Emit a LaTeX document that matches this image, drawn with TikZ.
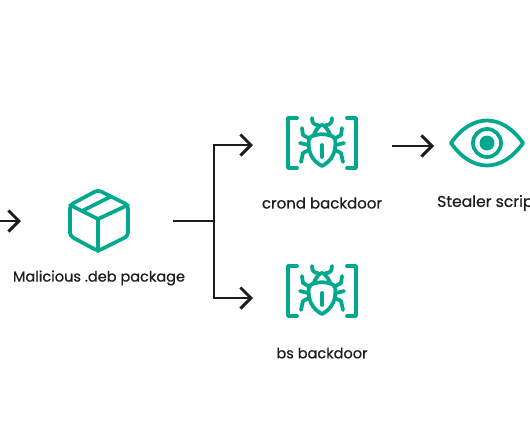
\documentclass[tikz,border=0pt]{standalone}
\usepackage{fontspec}
\usepackage{xcolor}
\usepackage{tikz}
\setmainfont{Poppins}[FakeBold=0.7]
\usetikzlibrary{arrows.meta, positioning, calc}
\definecolor{kasGreen}{RGB}{0,168,142}
\definecolor{kasInk}{RGB}{29,29,27}
\tikzset{
    flowline/.style={draw=kasInk, line width=2.5pt, line join=miter},
    flowarrow/.style={flowline, -{Straight Barb[length=9pt, width=18pt, line width=2.5pt]}},
    iconline/.style={draw=kasGreen, line width=3.2pt, line cap=round, line join=round},
    caption/.style={font=\fontsize{12.4}{14}\selectfont, text=kasInk, inner sep=0pt},
    pics/bugicon/.style={code={
        % brackets
        \draw[iconline] (-25,-25) -- (-34,-25) -- (-34,25) -- (-25,25);
        \draw[iconline] (25,-25) -- (34,-25) -- (34,25) -- (25,25);
        % body
        \draw[iconline] (-13,-5) .. controls (-7,-10) and (7,-10) .. (13,-5) .. controls (15,8) and (10,18) .. (0,23) .. controls (-10,18) and (-15,8) .. (-13,-5) -- cycle;
        \draw[iconline] (0,2) -- (0,14);
        % head and feelers
        \draw[iconline] (-8,-9) .. controls (-5,-15) and (-2,-18) .. (0,-18) .. controls (2,-18) and (5,-15) .. (8,-9);
        \draw[iconline] (-10,-25) .. controls (-10,-20) and (-8,-18) .. (-4,-18);
        \draw[iconline] (10,-25) .. controls (10,-20) and (8,-18) .. (4,-18);
        % legs
        \draw[iconline] (-12,-4) -- (-19,-8) -- (-20,-15);
        \draw[iconline] (12,-4) -- (19,-8) -- (20,-15);
        \draw[iconline] (-14,2) -- (-22,0);
        \draw[iconline] (14,2) -- (22,0);
        \draw[iconline] (-13,7) -- (-19,10) -- (-21,19);
        \draw[iconline] (13,7) -- (19,10) -- (21,19);
    }},
}
\begin{document}
\begin{tikzpicture}[x=0.03cm, y=-0.03cm]
    \useasboundingbox (0,0) rectangle (530,442);
    % free ends of the connectors
    \coordinate (inStart) at (-4,221);
    \coordinate (inEnd) at (21,221);
    \coordinate (pkgOut) at (173,221);
    \coordinate (forkMid) at (214,221);
    \coordinate (crondIn) at (253,145);
    \coordinate (bsIn) at (253,298);
    \coordinate (crondOut) at (392,146);
    \coordinate (stealerIn) at (434,146);
    % package icon
    \draw[iconline, rounded corners=3] (98,190) -- (128,205) -- (128,236) -- (98,251) -- (70,236) -- (70,205) -- cycle;
    \draw[iconline] (70,205) -- (98,219) -- (128,205);
    \draw[iconline] (98,219) -- (98,251);
    \draw[iconline] (82,211) -- (110,197);
    \node[caption] (pkgLabel) at (99,278) {Malicious .deb package};
    % bugs
    \pic at (322,143) {bugicon};
    \pic at (322,291) {bugicon};
    \node[caption, font=\fontsize{12.8}{14}\selectfont] (crondLabel) at (322,203) {crond backdoor};
    \node[caption] (bsLabel) at (322,353) {bs backdoor};
    % eye
    \draw[iconline] (451,143) .. controls (472,113) and (502,113) .. (523,143) .. controls (502,173) and (472,173) .. (451,143) -- cycle;
    \draw[iconline] (487,143) circle (14);
    \fill[kasGreen] (487,143) circle (7.5);
    \node[caption, font=\fontsize{13.3}{14}\selectfont, anchor=west] (stealerLabel) at (437,203) {Stealer script};
    % connectors
    \draw[flowarrow] (inStart) -- (inEnd);
    \draw[flowline] (pkgOut) -- (forkMid);
    \draw[flowarrow] (forkMid) |- (crondIn);
    \draw[flowarrow] (forkMid) |- (bsIn);
    \draw[flowarrow] (crondOut) -- (stealerIn);
\end{tikzpicture}
\end{document}
